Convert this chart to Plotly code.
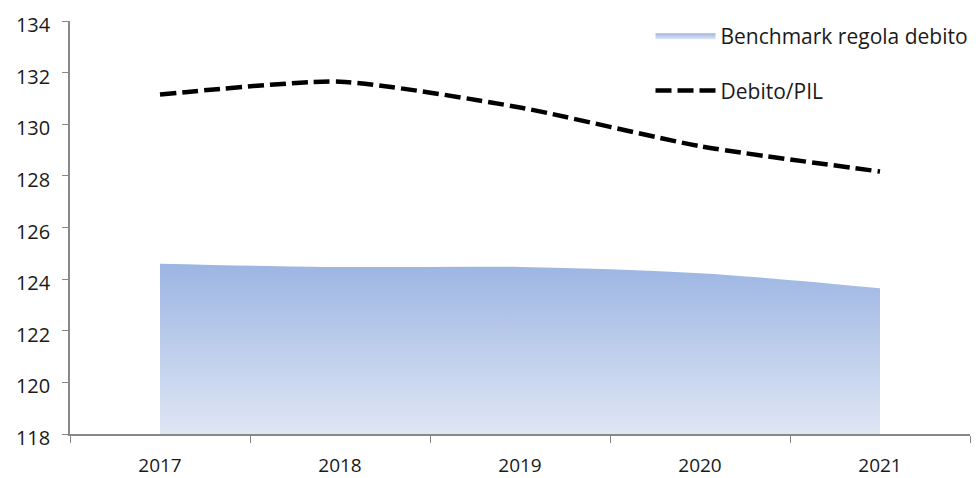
import plotly.graph_objects as go

years = ["2017", "2018", "2019", "2020", "2021"]
benchmark = [124.6, 124.47, 124.47, 124.23, 123.65]
debito_pil = [131.15, 131.65, 130.65, 129.15, 128.17]
y_ticks = [118, 120, 122, 124, 126, 128, 130, 132, 134]

font_family = "'Open Sans', Lato, sans-serif"

fig = go.Figure()
fig.add_trace(go.Scatter(
    x=years, y=benchmark, name="Benchmark regola debito",
    mode="none", fill="tozeroy", line_shape="spline",
    fillgradient=dict(type="vertical", start=118, stop=max(benchmark),
                      colorscale=[[0, "#dfe6f4"], [1, "#9cb5e2"]]),
    legendgroup="a",
))
fig.add_trace(go.Scatter(
    x=years, y=debito_pil, name="Debito/PIL",
    mode="lines", line=dict(color="black", width=4.5, dash="16px,6px", shape="spline", smoothing=0.6),
    legendgroup="b",
))

fig.update_layout(
    width=972, height=470,
    margin=dict(l=62, r=10, t=13, b=44, autoexpand=False),
    paper_bgcolor="white", plot_bgcolor="white",
    font=dict(family=font_family, size=19, color="#1a1a1a"),
    showlegend=True,
    legend=dict(x=0.645, y=1.012, xanchor="left", yanchor="top",
                bgcolor="rgba(0,0,0,0)", font=dict(size=21, color="#1a1a1a"),
                traceorder="grouped", tracegroupgap=24, itemwidth=60),
    xaxis=dict(type="category", range=[-0.5, 4.5], tickson="boundaries",
               showline=True, linecolor="#888", linewidth=1.5,
               ticks="outside", ticklen=7, tickcolor="#888",
               ticklabelstandoff=13,
               showgrid=False, zeroline=False),
    yaxis=dict(range=[118, 134], tickvals=y_ticks,
               showline=True, linecolor="#888", linewidth=1.5,
               ticks="outside", ticklen=6, tickcolor="#888",
               ticklabelstandoff=8, ticklabeloverflow="allow",
               ticklabelshift=4,
               tickfont=dict(size=20),
               showgrid=False, zeroline=False),
)

fig.write_html("out.html")
